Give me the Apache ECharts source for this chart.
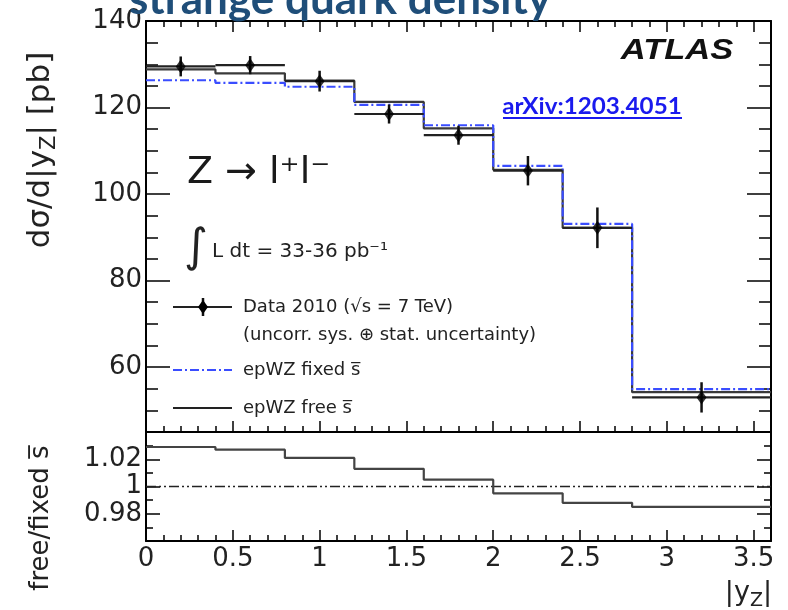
<!DOCTYPE html>
<html>
<head>
<meta charset="utf-8">
<script src="https://cdn.jsdelivr.net/npm/echarts@6/dist/echarts.min.js"></script>
<style>
html,body{margin:0;padding:0;background:#fff;}
#chart{width:788px;height:610px;}
</style>
</head>
<body>
<div id="chart"></div>
<script>
// ---- data ----
const binEdges = [0, 0.4, 0.8, 1.2, 1.6, 2.0, 2.4, 2.8, 3.6];
const binCenters = [0.2, 0.6, 1.0, 1.4, 1.8, 2.2, 2.6, 3.2];
const dataValues = [129.5, 129.8, 126.1, 118.5, 113.6, 105.4, 92.2, 53.0];
const dataErrors = [2.3, 2.1, 2.4, 2.2, 2.2, 3.4, 4.7, 3.5];
const fixedValues = [126.3, 125.7, 124.8, 120.6, 115.9, 106.5, 93.1, 54.9];
const freeValues = [128.8, 127.9, 126.2, 121.3, 115.2, 105.6, 92.2, 54.2];
const ratioValues = [1.029, 1.027, 1.021, 1.013, 1.005, 0.995, 0.988, 0.985];
const ratioReference = 1;
const yTickLabels = [60, 80, 100, 120, 140];
const ratioTickLabels = [0.98, 1, 1.02];

// ---- build series data ----
function stepData(vals) {
  return binEdges.map((e, i) => [e, vals[Math.min(i, vals.length - 1)]]);
}
const errData = binCenters.map((c, i) => [c, dataValues[i], dataErrors[i], binEdges[i], binEdges[i + 1]]);
const markerData = binCenters.map((c, i) => [c, dataValues[i]]);

const FONT = 'DejaVu Sans';
const TXT = '#222';

const chart = echarts.init(document.getElementById('chart'), null, {renderer: 'canvas'});

function xAxisCfg(gridIndex, position, showLabel, tickLen, minorLen) {
  return {
    type: 'value', gridIndex, position, min: 0, max: 3.6, interval: 0.5,
    axisLine: {show: true, onZero: false, lineStyle: {color: '#000', width: 2}},
    axisTick: {show: true, inside: true, length: tickLen, lineStyle: {color: '#000', width: 1.5}},
    minorTick: {show: true, splitNumber: 5, length: minorLen, lineStyle: {color: '#000', width: 1.5}},
    axisLabel: {show: showLabel, fontFamily: FONT, fontSize: 26, color: TXT, margin: 5, showMaxLabel: false},
    splitLine: {show: false}, minorSplitLine: {show: false}
  };
}
function yTopCfg(position, major, showLabel) {
  const c = {
    type: 'value', gridIndex: 0, position, min: 45, max: 140, interval: 5,
    axisLine: {show: !major, onZero: false, lineStyle: {color: '#000', width: 2}},
    axisTick: {show: true, inside: true, length: major ? 24 : 12, lineStyle: {color: '#000', width: 1.5}},
    axisLabel: {show: showLabel, fontFamily: FONT, fontSize: 26, color: TXT, margin: 4, customValues: yTickLabels},
    splitLine: {show: false}
  };
  if (major) c.axisTick.customValues = yTickLabels;
  return c;
}
function yRatioCfg(position, showLabel) {
  return {
    type: 'value', gridIndex: 1, position, min: 0.96, max: 1.04, interval: 0.02,
    axisLine: {show: true, onZero: false, lineStyle: {color: '#000', width: 2}},
    axisTick: {show: true, inside: true, length: 14, lineStyle: {color: '#000', width: 1.5}},
    minorTick: {show: true, splitNumber: 2, length: 7, lineStyle: {color: '#000', width: 1.5}},
    axisLabel: {show: showLabel, fontFamily: FONT, fontSize: 26, color: TXT, margin: 4, customValues: ratioTickLabels},
    splitLine: {show: false}, minorSplitLine: {show: false}
  };
}

const option = {
  animation: false,
  backgroundColor: '#fff',
  grid: [
    {left: 146, top: 21, width: 625, height: 411, show: false, containLabel: false},
    {left: 146, top: 432, width: 625, height: 109, show: false, containLabel: false}
  ],
  xAxis: [
    xAxisCfg(0, 'bottom', false, 11, 6),
    xAxisCfg(0, 'top', false, 11, 6),
    xAxisCfg(1, 'bottom', true, 11, 6)
  ],
  yAxis: [
    yTopCfg('left', false, true),
    yTopCfg('left', true, false),
    yTopCfg('right', false, false),
    yTopCfg('right', true, false),
    yRatioCfg('left', true),
    yRatioCfg('right', false)
  ],
  series: [
    {
      name: 'epWZ free', type: 'line', xAxisIndex: 0, yAxisIndex: 0, step: 'end',
      data: stepData(freeValues), symbol: 'none', z: 2,
      lineStyle: {color: '#3a3a3a', width: 2.2}
    },
    {
      name: 'epWZ fixed', type: 'line', xAxisIndex: 0, yAxisIndex: 0, step: 'end',
      data: stepData(fixedValues), symbol: 'none', z: 3,
      lineStyle: {color: '#3a4dff', width: 2.2, type: [9, 3, 2, 3]}
    },
    {
      name: 'Data errors', type: 'custom', xAxisIndex: 0, yAxisIndex: 0, z: 4,
      data: errData, encode: {x: 0, y: 1},
      renderItem: function (params, api) {
        const x = api.value(0), y = api.value(1), e = api.value(2), lo = api.value(3), hi = api.value(4);
        const pL = api.coord([lo, y]), pR = api.coord([hi, y]);
        const pT = api.coord([x, y + e]), pB = api.coord([x, y - e]);
        return {
          type: 'group', children: [
            {type: 'line', shape: {x1: pL[0], y1: pL[1], x2: pR[0], y2: pR[1]}, style: {stroke: '#222', lineWidth: 2.2}},
            {type: 'line', shape: {x1: pT[0], y1: pT[1], x2: pB[0], y2: pB[1]}, style: {stroke: '#111', lineWidth: 2.5}}
          ]
        };
      }
    },
    {
      name: 'Data', type: 'scatter', xAxisIndex: 0, yAxisIndex: 0, z: 5,
      data: markerData, symbol: 'diamond', symbolSize: [10, 14],
      itemStyle: {color: '#000'}
    },
    {
      name: 'ratio', type: 'line', xAxisIndex: 2, yAxisIndex: 4, step: 'end',
      data: stepData(ratioValues), symbol: 'none', z: 3,
      lineStyle: {color: '#444', width: 2.2}
    },
    {
      name: 'ratio ref', type: 'line', xAxisIndex: 2, yAxisIndex: 4,
      data: [[binEdges[0], ratioReference], [binEdges[binEdges.length - 1], ratioReference]],
      symbol: 'none', z: 2,
      lineStyle: {color: '#222', width: 1.6, type: [10, 3, 2, 3, 2, 3]}
    }
  ],
  graphic: [
    // title (cut at the top edge)
    {type: 'text', x: 340, y: 0, z: 100, style: {text: 'strange quark density', fontFamily: 'Lato', fontWeight: 'bold', fontSize: 44, fill: '#1F4E79', align: 'center', verticalAlign: 'middle'}},
    // ATLAS
    {type: 'text', x: 677, y: 51, scaleX: 1.15, style: {text: 'ATLAS', fontFamily: 'Liberation Sans', fontWeight: 'bold', fontStyle: 'italic', fontSize: 30, fill: '#111', align: 'center', verticalAlign: 'middle'}},
    // arXiv link
    {type: 'text', x: 592, y: 107, scaleX: 1.1, style: {text: 'arXiv:1203.4051', fontFamily: 'Lato', fontWeight: 'bold', fontSize: 22, fill: '#1a1aee', align: 'center', verticalAlign: 'middle'}},
    {type: 'line', shape: {x1: 503, y1: 118, x2: 682, y2: 118}, style: {stroke: '#1a1aee', lineWidth: 2}},
    // Z -> l+l-
    {type: 'text', x: 187, y: 173, style: {text: 'Z \u2192 l\u207Al\u207B', fontFamily: FONT, fontSize: 38, fill: '#1a1a1a', align: 'left', verticalAlign: 'middle'}},
    // luminosity
    {type: 'text', x: 196, y: 249, style: {text: '\u222B', fontFamily: FONT, fontSize: 46, fill: '#222', align: 'center', verticalAlign: 'middle'}},
    {type: 'text', x: 212, y: 252, style: {text: 'L dt = 33-36 pb\u207B\u00B9', fontFamily: FONT, fontSize: 20, fill: '#222', align: 'left', verticalAlign: 'middle'}},
    // legend: data
    {type: 'line', shape: {x1: 173, y1: 307, x2: 232, y2: 307}, style: {stroke: '#222', lineWidth: 2.2}},
    {type: 'line', shape: {x1: 203, y1: 298, x2: 203, y2: 316}, style: {stroke: '#111', lineWidth: 2.5}},
    {type: 'polygon', shape: {points: [[203, 300], [208, 307], [203, 314], [198, 307]]}, style: {fill: '#000'}},
    {type: 'text', x: 243, y: 307, style: {text: 'Data 2010 (\u221As = 7 TeV)', fontFamily: FONT, fontSize: 18, fill: '#222', align: 'left', verticalAlign: 'middle'}},
    {type: 'text', x: 243, y: 335, style: {text: '(uncorr. sys. \u2295 stat. uncertainty)', fontFamily: FONT, fontSize: 18, fill: '#222', align: 'left', verticalAlign: 'middle'}},
    // legend: fixed
    {type: 'line', shape: {x1: 173, y1: 370, x2: 232, y2: 370}, style: {stroke: '#3a4dff', lineWidth: 2.2, lineDash: [9, 3, 2, 3]}},
    {type: 'text', x: 243, y: 370, style: {text: 'epWZ fixed s\u0305', fontFamily: FONT, fontSize: 18, fill: '#222', align: 'left', verticalAlign: 'middle'}},
    // legend: free
    {type: 'line', shape: {x1: 173, y1: 408, x2: 232, y2: 408}, style: {stroke: '#222', lineWidth: 1.8}},
    {type: 'text', x: 243, y: 408, style: {text: 'epWZ free s\u0305', fontFamily: FONT, fontSize: 18, fill: '#222', align: 'left', verticalAlign: 'middle'}},
    // y title top
    {type: 'text', x: 42, y: 150, rotation: Math.PI / 2, style: {
      text: '{n|d\u03C3/d|y}{s|Z}{n|| [pb]}',
      rich: {
        n: {fontFamily: FONT, fontSize: 31, lineHeight: 33, verticalAlign: 'top', fill: TXT},
        s: {fontFamily: FONT, fontSize: 21, lineHeight: 22, padding: [14, 0, 0, 0], verticalAlign: 'top', fill: TXT}
      },
      align: 'center', verticalAlign: 'middle'}},
    // y title ratio
    {type: 'text', x: 41, y: 518, rotation: Math.PI / 2, style: {text: 'free/fixed s\u0305', fontFamily: FONT, fontSize: 26, fill: TXT, align: 'center', verticalAlign: 'middle'}},
    // x title
    {type: 'text', x: 772, y: 594, style: {
      text: '{n||y}{s|Z}{n||}',
      rich: {
        n: {fontFamily: FONT, fontSize: 27, lineHeight: 29, verticalAlign: 'top', fill: TXT},
        s: {fontFamily: FONT, fontSize: 19, lineHeight: 19, padding: [12, 0, 0, 0], verticalAlign: 'top', fill: TXT}
      },
      align: 'right', verticalAlign: 'middle'}}
  ]
};
chart.setOption(option);
</script>
</body>
</html>
